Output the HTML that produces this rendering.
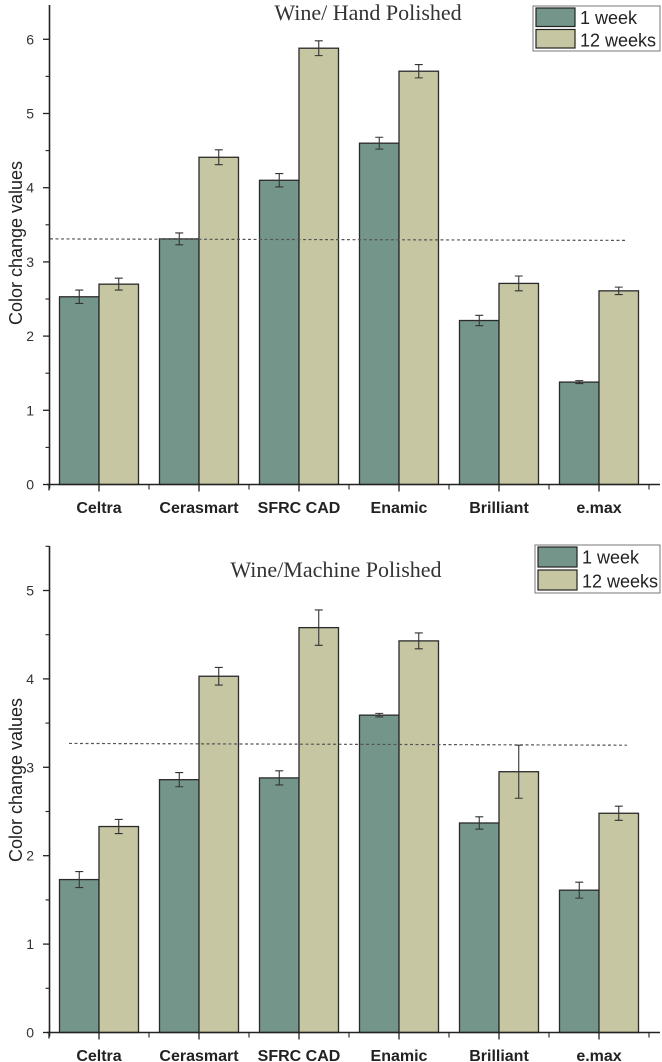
<!DOCTYPE html>
<html><head><meta charset="utf-8"><style>
html,body{margin:0;padding:0;background:#fff;}
svg{display:block;}
</style></head><body>
<svg id="chart" width="662" height="1062" viewBox="0 0 662 1062" xmlns="http://www.w3.org/2000/svg"></svg>
<script>
const categories = ["Celtra","Cerasmart","SFRC CAD","Enamic","Brilliant","e.max"];
const handWeek1 = [2.53,3.31,4.10,4.60,2.21,1.38];
const handWeek1Err = [0.09,0.08,0.09,0.08,0.07,0.02];
const handWeek12 = [2.70,4.41,5.88,5.57,2.71,2.61];
const handWeek12Err = [0.08,0.10,0.10,0.09,0.10,0.05];
const handThreshold = [3.31,3.29];
const machWeek1 = [1.73,2.86,2.88,3.59,2.37,1.61];
const machWeek1Err = [0.09,0.08,0.08,0.02,0.07,0.09];
const machWeek12 = [2.33,4.03,4.58,4.43,2.95,2.48];
const machWeek12Err = [0.08,0.10,0.20,0.09,0.30,0.08];
const machThreshold = [3.27,3.25];
const handTicks = [0,1,2,3,4,5,6];
const machTicks = [0,1,2,3,4,5];

const NS="http://www.w3.org/2000/svg";
const svg=document.getElementById('chart');
function mk(tag,attrs,parent,name,text){
  const e=document.createElementNS(NS,tag);
  for(const k in attrs) e.setAttribute(k,attrs[k]);
  
  
  if(text!==undefined) e.textContent=text;
  parent.appendChild(e);
  return e;
}
function drawChart(o){
  const g=mk('g',{},svg,o.name);
  const y=v=>o.y0-v*o.unit;
  const x=i=>99+i*100;
  const bw=39.5;
  categories.forEach((c,i)=>{
    [[o.w1,o.e1,'#74968a',-bw,'week1'],[o.w12,o.e12,'#c7c6a2',0,'week12']].forEach(s=>{
      const v=s[0][i], e=s[1][i];
      mk('rect',{x:x(i)+s[3],y:y(v),width:bw,height:o.y0-y(v),fill:s[2],stroke:'#2a2a2a','stroke-width':1.3},g,'bar-'+s[4]+'-'+c.toLowerCase().replace(/[^a-z]+/g,'-'));
      const cx=x(i)+s[3]+bw/2;
      mk('path',{d:`M${cx},${y(v+e)}V${y(v-e)}M${cx-4},${y(v+e)}H${cx+4}M${cx-4},${y(v-e)}H${cx+4}`,stroke:'#333','stroke-width':1.1,fill:'none'},g,'error-bar-'+s[4]);
    });
  });
  mk('line',{x1:o.dx1,y1:y(o.th[0]),x2:627,y2:y(o.th[1]),stroke:'#555','stroke-width':1.2,'stroke-dasharray':'3,2.5'},g,'threshold-line');
  mk('line',{x1:49.5,y1:o.top,x2:49.5,y2:o.y0+4,stroke:'#222','stroke-width':1.6},g,'y-axis');
  mk('line',{x1:47,y1:o.y0,x2:660,y2:o.y0,stroke:'#222','stroke-width':1.6},g,'x-axis');
  o.ticks.forEach(t=>{
    mk('line',{x1:43,y1:y(t),x2:49.5,y2:y(t),stroke:'#222','stroke-width':1.3},g,'y-tick');
    mk('text',{x:34,y:y(t)+5,'text-anchor':'end','font-family':'Liberation Sans, sans-serif','font-size':14,fill:'#333'},g,'y-tick-label',String(t));
    if(y(t+0.5)>o.top) mk('line',{x1:45.5,y1:y(t+0.5),x2:49.5,y2:y(t+0.5),stroke:'#222','stroke-width':1.1},g,'y-minor-tick');
  });
  categories.forEach((c,i)=>{
    mk('line',{x1:x(i),y1:o.y0,x2:x(i),y2:o.y0+7,stroke:'#222','stroke-width':1.3},g,'x-tick');
    mk('line',{x1:x(i)+50,y1:o.y0,x2:x(i)+50,y2:o.y0+5,stroke:'#222','stroke-width':1.1},g,'x-minor-tick');
    mk('text',{x:x(i),y:o.labY,'text-anchor':'middle','font-family':'Liberation Sans, sans-serif','font-size':16,'font-weight':'bold',fill:'#222'},g,'x-tick-label',c);
  });
  mk('line',{x1:49,y1:o.y0,x2:49,y2:o.y0+6,stroke:'#222','stroke-width':1.3},g,'x-tick');
  mk('text',{x:0,y:0,transform:`translate(22,${o.ytY}) rotate(-90)`,'text-anchor':'middle','font-family':'Liberation Sans, sans-serif','font-size':18,fill:'#222'},g,'y-axis-title','Color change values');
  mk('text',{x:o.tx,y:o.tY,'text-anchor':'middle','font-family':'Liberation Serif, serif','font-size':22,fill:'#333'},g,'chart-title',o.title);
  const L=o.leg;
  mk('rect',{x:L.x,y:L.y,width:660-L.x,height:L.h,fill:'#fff',stroke:'#777','stroke-width':1},g,'legend-box');
  mk('rect',{x:L.x+3,y:L.y+2,width:39,height:L.h/2-4,fill:'#74968a',stroke:'#222','stroke-width':1.2},g,'legend-swatch-1-week');
  mk('rect',{x:L.x+3,y:L.y+L.h/2+1,width:39,height:L.h/2-4,fill:'#c7c6a2',stroke:'#222','stroke-width':1.2},g,'legend-swatch-12-weeks');
  mk('text',{x:L.x+47,y:L.y+L.h/4+6.5,'font-family':'Liberation Sans, sans-serif','font-size':18,fill:'#222'},g,'legend-label-1-week','1 week');
  mk('text',{x:L.x+47,y:L.y+3*L.h/4+6.5,'font-family':'Liberation Sans, sans-serif','font-size':18,fill:'#222'},g,'legend-label-12-weeks','12 weeks');
}
drawChart({name:'hand-polished-chart',y0:484.5,unit:74.2,top:5,w1:handWeek1,e1:handWeek1Err,w12:handWeek12,e12:handWeek12Err,th:handThreshold,dx1:50,ticks:handTicks,labY:513,ytY:243,title:'Wine/ Hand Polished',tx:368,tY:20,leg:{x:533,y:6,h:45}});
drawChart({name:'machine-polished-chart',y0:1032.5,unit:88.4,top:546,w1:machWeek1,e1:machWeek1Err,w12:machWeek12,e12:machWeek12Err,th:machThreshold,dx1:69,ticks:machTicks,labY:1061,ytY:780,title:'Wine/Machine Polished',tx:336,tY:577,leg:{x:535,y:545,h:48}});
</script>
</body></html>
